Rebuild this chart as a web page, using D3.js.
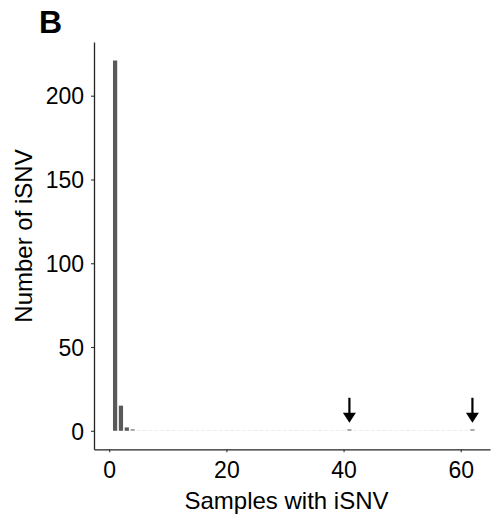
<!DOCTYPE html>
<html>
<head>
<meta charset="utf-8">
<script src="https://cdn.jsdelivr.net/npm/d3@7.9.0/dist/d3.min.js"></script>
<style>
  body { margin: 0; background: #fff; }
  svg { font-family: "Liberation Sans", Arial, sans-serif; }
</style>
</head>
<body>
<svg id="chart" width="494" height="519"></svg>
<script>
// samples with iSNV (1..62) and the number of iSNV for each
const samples = d3.range(1, 63);
const nonZero = { 1: 221, 2: 15, 3: 2, 4: 1, 41: 1, 62: 1 };
const counts = samples.map(s => nonZero[s] || 0);
const arrowAt = [41, 62];
const xTicks = [0, 20, 40, 60];
const yTicks = [0, 50, 100, 150, 200];

const svg = d3.select('#chart');

let x = d3.scaleLinear().domain([-2.6, 65]).range([94, 490]);
let y = d3.scaleLinear().domain([-11.05, 232.05]).range([449.3, 42]);
let bw = (x(1) - x(0)) * 0.72;

// bars
svg.selectAll('rect.bar')
    .data(samples)
    .join('rect')
    .attr('class', 'bar')
    .attr('x', (d) => x(d) - bw / 2)
    .attr('width', bw)
    .attr('y', (d, i) => counts[i] > 0 ? y(counts[i]) : y(0) - 0.6)
    .attr('height', (d, i) => counts[i] > 0 ? y(0) - y(counts[i]) : 0.6)
    .attr('fill', (d, i) => counts[i] > 1 ? '#595959' : counts[i] > 0 ? '#9a9a9a' : '#e2e2e2');

// arrows pointing at the far-right samples
arrowAt.forEach((s) => {
    let cx = x(s);
    let tip = y(0) - 8;
    svg.append('line')
        .attr('x1', cx).attr('x2', cx)
        .attr('y1', tip - 25).attr('y2', tip - 8)
        .attr('stroke', '#000')
        .attr('stroke-width', 2.2);
    svg.append('path')
        .attr('d', `M${cx - 6.5},${tip - 10} L${cx + 6.5},${tip - 10} L${cx},${tip} Z`)
        .attr('fill', '#000');
});

// axes
let xAxis = svg.append('g')
    .attr('transform', `translate(0,${y.range()[0]})`)
    .call(d3.axisBottom(x).tickValues(xTicks).tickSize(3).tickSizeOuter(0));
let yAxis = svg.append('g')
    .attr('transform', `translate(${x.range()[0]},0)`)
    .call(d3.axisLeft(y).tickValues(yTicks).tickSize(3).tickSizeOuter(0));

[xAxis, yAxis].forEach((g) => {
    g.select('.domain').attr('stroke', '#222').attr('stroke-width', 1.3);
    g.selectAll('.tick line').attr('stroke', '#333').attr('stroke-width', 1.1);
    g.selectAll('.tick text')
        .attr('fill', '#000')
        .attr('font-size', 23)
        .attr('font-family', '"Liberation Sans", Arial, sans-serif');
});
xAxis.selectAll('.tick text').attr('y', 6).attr('dy', '1em');
yAxis.selectAll('.tick text').attr('x', -10).attr('dy', '0.36em');

// axis titles
svg.append('text')
    .attr('x', 286.5)
    .attr('y', 508.5)
    .attr('text-anchor', 'middle')
    .attr('font-size', 24)
    .text('Samples with iSNV');

svg.append('text')
    .attr('transform', 'translate(32,236) rotate(-90)')
    .attr('text-anchor', 'middle')
    .attr('font-size', 24)
    .text('Number of iSNV');

// panel letter
svg.append('text')
    .attr('x', 39)
    .attr('y', 33)
    .attr('font-size', 32)
    .attr('font-weight', 'bold')
    .text('B');
</script>
</body>
</html>
